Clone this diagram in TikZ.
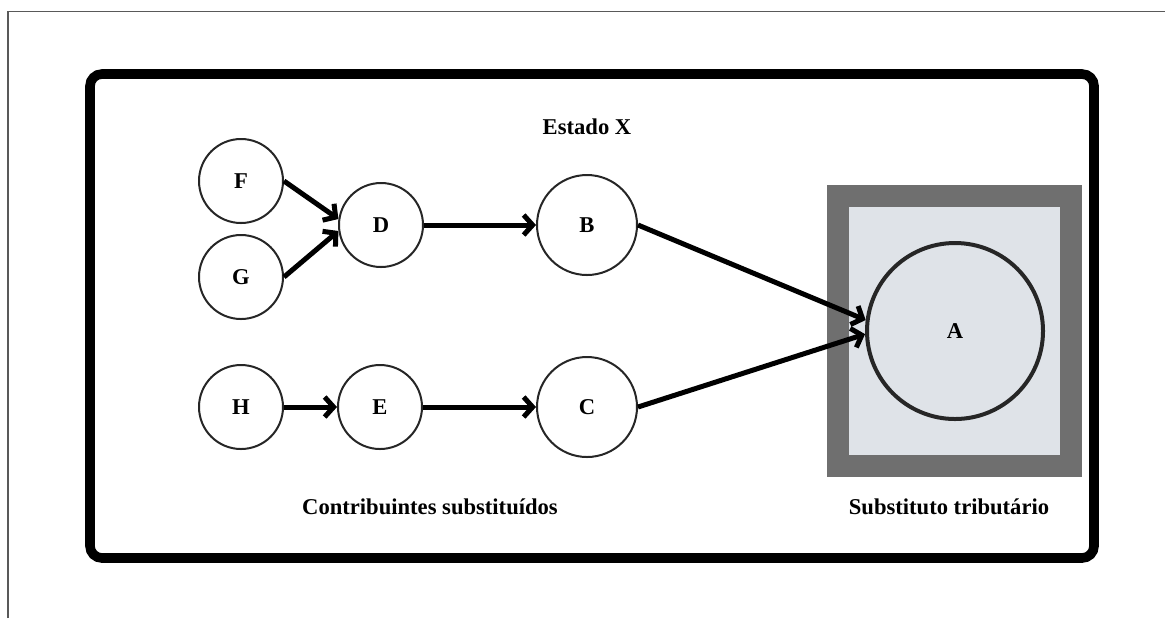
\documentclass[tikz,border=0pt]{standalone}
\usepackage{fontspec}
\setmainfont{Liberation Serif}
\usetikzlibrary{positioning, arrows.meta}
\definecolor{ringgray}{HTML}{6F6F6F}
\definecolor{paleblue}{HTML}{DFE3E8}
\definecolor{inkgray}{HTML}{262626}
\tikzset{
  agent/.style  = {draw=inkgray, circle, line width=1pt, fill=white, minimum size=42pt,
                   inner sep=0pt, font=\fontsize{11.3}{13}\selectfont\bfseries},
  bigagent/.style = {agent, minimum size=50pt},
  target/.style = {agent, fill=none, line width=2pt, minimum size=88pt},
  holder/.style = {draw=ringgray, line width=11pt, fill=paleblue, minimum width=116.5pt,
                   minimum height=135pt, inner sep=0pt},
  caption/.style = {font=\fontsize{11.3}{13}\selectfont\bfseries},
  arrow/.style  = {-{Straight Barb[length=4.5pt, width=10pt]}, line width=2.5pt},
}

\begin{document}
\begin{tikzpicture}[x=0.5pt, y=-0.5pt]
  \useasboundingbox (0,0) rectangle (1165,618);
  \draw[gray!70!black, line width=0.6pt] (8,618) |- (1165,11.5);

  % state frame
  \draw[line width=4.8pt, rounded corners=6pt] (90,74) rectangle (1094,558);
  \node[caption] at (587,127) (estado) {Estado X};

  \node[agent]    at (241,181) (f) {F};
  \node[agent]    at (241,277) (g) {G};
  \node[agent]    at (381,225) (d) {D};
  \node[bigagent] at (587,225) (b) {B};

  \node[agent]    at (241,407) (h) {H};
  \node[agent]    at (380,407) (e) {E};
  \node[bigagent] at (587,407) (c) {C};

  \node[holder]   at (954.5,331) (box) {};
  \node[target]   at (955,331) (a) {A};

  \node[caption] at (430,507) (subd)  {Contribuintes substituídos};
  \node[caption] at (949,507) (subst) {Substituto tributário};

  \draw[arrow] (f.east) -- (d.172);
  \draw[arrow] (g.east) -- (d.188);
  \draw[arrow] (d) -- (b);
  \draw[arrow] (h) -- (e);
  \draw[arrow] (e) -- (c);
  \draw[arrow] (b.east) -- (a.173);
  \draw[arrow] (c.east) -- (a.182);
\end{tikzpicture}
\end{document}
